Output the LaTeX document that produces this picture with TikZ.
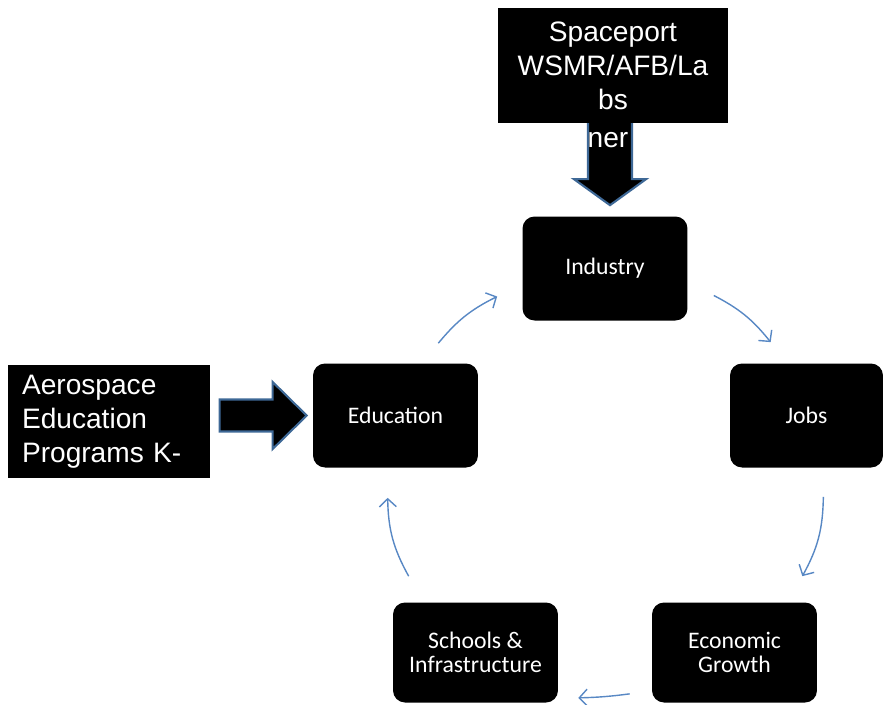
\documentclass[tikz,border=0pt]{standalone}
\usepackage{fontspec}
\newfontfamily\arialfont{Liberation Sans}
\newfontfamily\calibrifont{Carlito}
\usetikzlibrary{calc, arrows.meta}
\definecolor{arrowblue}{RGB}{88,136,196}
\definecolor{outlineblue}{RGB}{62,104,150}

\begin{document}
\begin{tikzpicture}[x=0.02cm, y=-0.02cm,
cycbox/.style={rectangle, rounded corners=0.24cm, fill=black, text=white, minimum width=3.3cm, minimum height=2.08cm, align=center, font=\calibrifont\fontsize{13.5}{14}\selectfont},
tagbox/.style={rectangle, fill=black, text=white, font=\arialfont\fontsize{16}{19.3}\selectfont},
cyc/.style={-{Straight Barb[length=1.6mm, width=3.4mm]}, arrowblue, line width=0.8pt},
blockarrow/.style={draw=outlineblue, fill=black, line width=1.2pt, line join=miter}]
\useasboundingbox (0,0) rectangle (885,704);

% the cycle
\node [cycbox] (industry) at (605,268.5) {Industry};
\node [cycbox, minimum width=3.06cm] (jobs) at (806.5,415.5) {Jobs};
\node [cycbox, minimum height=2cm] (econ) at (734.5,652.5) {Economic\\Growth};
\node [cycbox, minimum height=2cm] (schools) at (475.5,652.5) {Schools \&\\Infrastructure};
\node [cycbox] (education) at (395.5,415.5) {Education};

\draw[cyc] ($(education.north east)+(-40,-20)$) to[bend left=12] ($(industry.west)+(-25,28)$);
\draw[cyc] ($(industry.east)+(26,27)$) to[bend left=12] ($(jobs.north west)+(41,-21)$);
\draw[cyc] ($(jobs.south east)+(-60,29)$) to[bend left=14] ($(econ.north east)+(-15,-26)$);
\draw[cyc] ($(econ.south west)+(-22,-9)$) to[bend left=3] ($(schools.south east)+(20,-5)$);
\draw[cyc] ($(schools.north west)+(16,-26)$) to[bend left=14] ($(education.south west)+(75,30)$);

% outside inputs
\coordinate (downtip) at ($(industry.north)+(5,-11)$);
\draw[blockarrow] (downtip) -- ++(-36,-26) -- ++(14,0) -- ++(0,-64) -- ++(44,0) -- ++(0,64) -- ++(14,0) -- cycle;
\node [tagbox, minimum width=4.6cm, minimum height=2.3cm, align=center, inner sep=0pt] (spaceport) at (613,65.5) {Spaceport\\WSMR/AFB/La\\bs};
\node [text=white, font=\arialfont\fontsize{16}{19.3}\selectfont, inner sep=0pt] (partners) at (608,140) {ner};

\coordinate (righttip) at ($(education.west)+(-6,0)$);
\draw[blockarrow] (righttip) -- ++(-34,-33.5) -- ++(0,17.5) -- ++(-53,0) -- ++(0,32) -- ++(53,0) -- ++(0,17.5) -- cycle;
\node [tagbox, minimum width=4.04cm, minimum height=2.26cm, text width=3.48cm, inner xsep=0.28cm, inner ysep=0pt, align=left] (aerospace) at (109,421.5) {Aerospace\\Education\\Programs K-};
\end{tikzpicture}
\end{document}
